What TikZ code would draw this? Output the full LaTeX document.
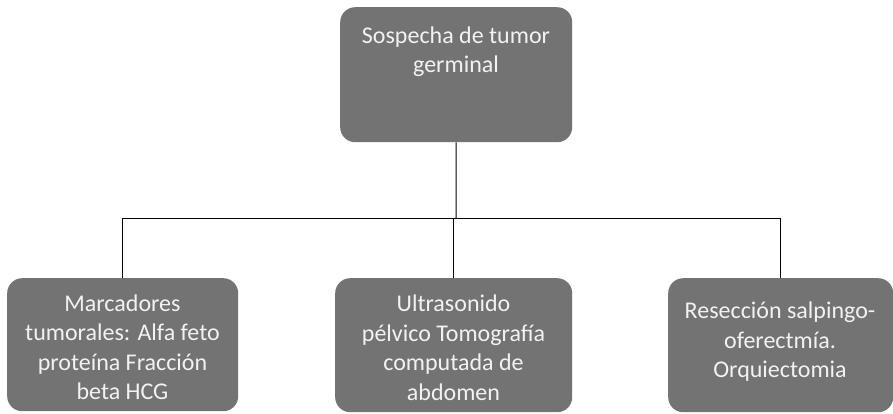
\documentclass[tikz,border=0pt]{standalone}
\usepackage{fontspec}
\setmainfont{Carlito}
\begin{document}
\begin{tikzpicture}[x=1pt,y=-1pt,
  box/.style={draw=none,fill=boxgray,rounded corners=15pt,inner sep=0pt,anchor=north west},
  lbl/.style={text=boxtext,align=center,inner sep=0pt,anchor=base,
    font=\fontsize{24}{29.5}\selectfont},
  conn/.style={draw=black,line width=1pt}]
\definecolor{boxgray}{HTML}{737373}
\definecolor{boxtext}{HTML}{F2F2F2}
\useasboundingbox (0,0) rectangle (893,413);
% boxes
\node[box,minimum width=232pt,minimum height=135pt] (top) at (340,7) {};
\node[box,minimum width=231pt,minimum height=133pt] (left) at (7,278) {};
\node[box,minimum width=237pt,minimum height=134pt] (mid) at (335,278) {};
\node[box,minimum width=225pt,minimum height=134pt] (right) at (668,278) {};
% texts (anchor base = last line baseline)
\node[lbl] (ttop) at (456,72.5) {Sospecha de tumor\\germinal};
\node[lbl] (tleft) at (122.5,399.5) {Marcadores\\tumorales: Alfa feto\\proteína Fracción\\beta HCG};
\node[lbl] (tmid) at (453.5,400) {Ultrasonido\\pélvico Tomografía\\computada de\\abdomen};
\node[lbl] (tright) at (780,377.5) {Resección salpingo-\\oferectmía.\\Orquiectomia};
% connectors
\coordinate (hub) at (456,218);
\draw[conn] (top.south) -- (hub);
\draw[conn] (left.north) |- (hub);
\draw[conn] (mid.north) |- (hub);
\draw[conn] (right.north) |- (hub);
\end{tikzpicture}
\end{document}
